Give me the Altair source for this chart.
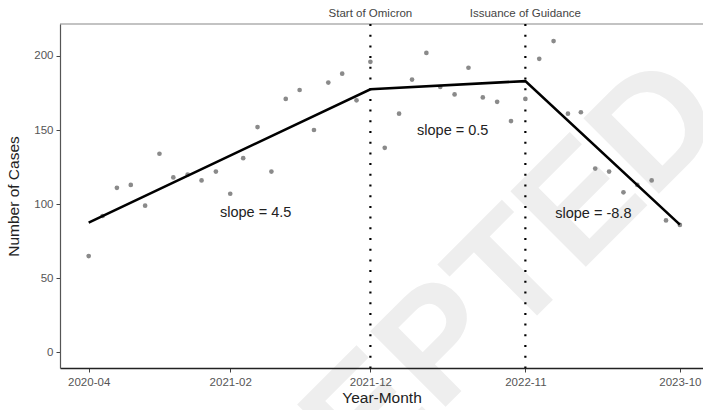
import altair as alt
import pandas as pd

# Monthly case counts, April 2020 to October 2023
months = list(pd.period_range("2020-04", "2023-10", freq="M").strftime("%Y-%m-01"))
cases = [
    65, 92, 111, 113, 99, 134, 118, 120, 116, 122,
    107, 131, 152, 122, 171, 177, 150, 182, 188, 170,
    196, 138, 161, 184, 202, 179, 174, 192, 172, 169,
    156, 171, 198, 210, 161, 162, 124, 122, 108, 113,
    116, 89, 86,
]

# Segmented regression fit at its knots
fit_dates = ["2020-04-01", "2021-12-01", "2022-11-01", "2023-10-01"]
fit_values = [87.5, 177.5, 183.0, 86.2]

# Interruption points
event_dates = ["2021-12-01", "2022-11-01"]
event_labels = ["Start of Omicron", "Issuance of Guidance"]

# Slope annotations
slope_dates = ["2021-03-28", "2022-05-28", "2023-03-28"]
slope_values = [94.3, 149.5, 93.6]
slope_texts = ["slope = 4.5", "slope = 0.5", "slope = -8.8"]

x_ticks = ["2020-04", "2021-02", "2021-12", "2022-11", "2023-10"]
y_ticks = [0, 50, 100, 150, 200]

points_df = pd.DataFrame({"date": months, "cases": cases})
fit_df = pd.DataFrame({"date": fit_dates, "cases": fit_values})
event_df = pd.DataFrame({"date": event_dates, "label": event_labels})
slope_df = pd.DataFrame({"date": slope_dates, "cases": slope_values, "text": slope_texts})

FONT = "Liberation Sans"
W, H = 643, 344


def dt(s):
    y, m = s.split("-")[:2]
    d = s.split("-")[2] if s.count("-") == 2 else 1
    return alt.DateTime(year=int(y), month=int(m), date=int(d), utc=True)


x_scale = alt.Scale(type="utc", domain=[dt("2020-01-30"), dt("2023-11-20")])
y_scale = alt.Scale(domain=[-10.5, 221.5], nice=False, zero=False)

x_axis = alt.Axis(
    values=[dt(t) for t in x_ticks], format="%Y-%m", title="Year-Month",
    grid=False, labelFontSize=11.5, labelColor="#555555", tickColor="#444444",
    tickSize=4, domainColor="#222222", domainWidth=1.3, labelPadding=4,
    titleFontSize=15.5, titleFontWeight="normal", titleColor="#222222", titlePadding=3,
    zindex=1,
)
y_axis = alt.Axis(
    values=y_ticks, title="Number of Cases", grid=False, labelFontSize=11.5,
    labelColor="#555555", tickColor="#444444", tickSize=4, domainColor="#555555",
    domainWidth=1.2, labelPadding=3, titleFontSize=15.5, titleFontWeight="normal",
    titleColor="#222222", titlePadding=12, zindex=1,
)

watermark = alt.Chart(pd.DataFrame({"t": ["ACCEPTED"]})).mark_text(
    angle=315, fontSize=155, fontWeight="bold", color="#eeeeee", font=FONT,
    align="center", baseline="middle",
).encode(x=alt.value(336), y=alt.value(366), text="t:N")

top_border = alt.Chart(pd.DataFrame({"a": [0]})).mark_rule(
    color="#888888", strokeWidth=1.2
).encode(x=alt.value(0), x2=alt.value(W), y=alt.value(0))

points = alt.Chart(points_df).mark_circle(size=22, color="#8a8a8a", opacity=1).encode(
    x=alt.X("date:T", scale=x_scale, axis=x_axis),
    y=alt.Y("cases:Q", scale=y_scale, axis=y_axis),
)

fit_line = alt.Chart(fit_df).mark_line(color="black", strokeWidth=2.6).encode(
    x=alt.X("date:T", scale=x_scale), y=alt.Y("cases:Q", scale=y_scale)
)

events = alt.Chart(event_df).mark_rule(
    color="black", strokeWidth=2.2, strokeDash=[2, 8.7]
).encode(x=alt.X("date:T", scale=x_scale))

event_text = alt.Chart(event_df).mark_text(
    fontSize=11.5, color="#444444", font=FONT, align="center", baseline="middle"
).encode(x=alt.X("date:T", scale=x_scale), y=alt.value(-10), text="label:N")

slope_text = alt.Chart(slope_df).mark_text(
    fontSize=14.5, color="#222222", font=FONT, align="center", baseline="middle"
).encode(
    x=alt.X("date:T", scale=x_scale), y=alt.Y("cases:Q", scale=y_scale), text="text:N"
)

chart = alt.layer(
    watermark, top_border, events, points, fit_line, slope_text, event_text
).properties(
    width=W, height=H,
    autosize=alt.AutoSizeParams(type="none"),
    padding={"left": 60, "top": 24, "right": 0, "bottom": 42},
).configure(font=FONT).configure_view(stroke=None)

chart.save("out.html", embed_options={"renderer": "svg", "actions": False})
